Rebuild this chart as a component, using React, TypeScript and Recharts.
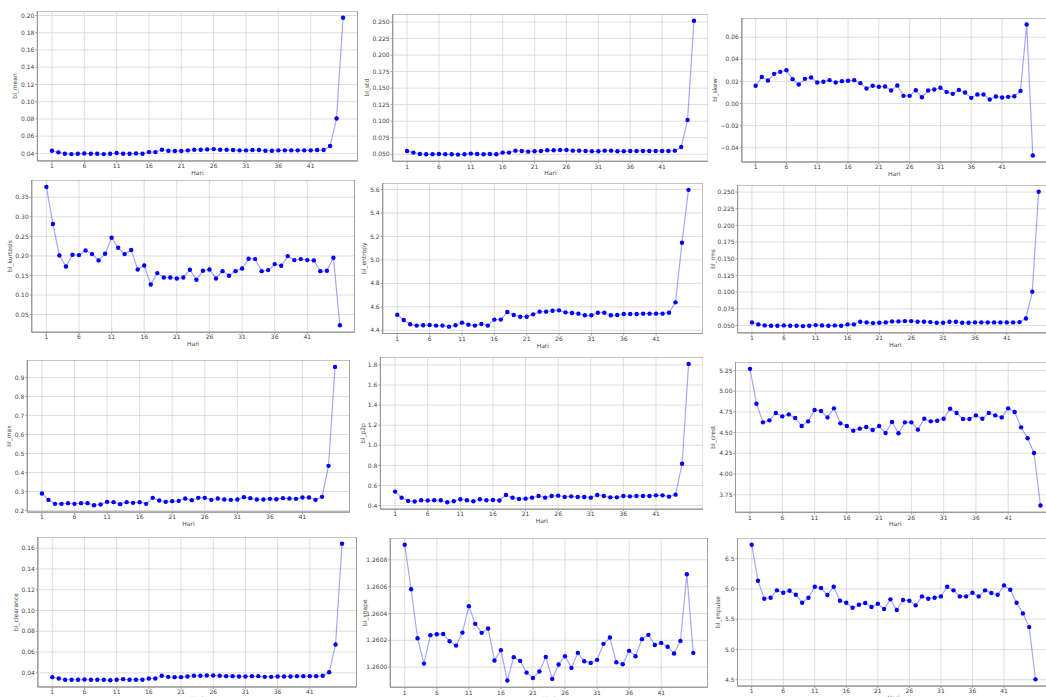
import React from 'react';
import { LineChart, Line, XAxis, YAxis, CartesianGrid, ReferenceArea } from 'recharts';

// day index on the x axis
const days = [1, 2, 3, 4, 5, 6, 7, 8, 9, 10, 11, 12, 13, 14, 15, 16, 17, 18, 19, 20, 21, 22, 23,
  24, 25, 26, 27, 28, 29, 30, 31, 32, 33, 34, 35, 36, 37, 38, 39, 40, 41, 42, 43, 44, 45, 46];
const xTicks = [1, 6, 11, 16, 21, 26, 31, 36, 41];

const meanVals = [0.0431, 0.0412, 0.0396, 0.0392, 0.0396, 0.0400, 0.0396, 0.0396, 0.0392, 0.0396,
  0.0404, 0.0396, 0.0396, 0.0400, 0.0396, 0.0415, 0.0415, 0.0442, 0.0431, 0.0427, 0.0427, 0.0435,
  0.0442, 0.0442, 0.0446, 0.0450, 0.0442, 0.0442, 0.0439, 0.0435, 0.0435, 0.0439, 0.0439, 0.0431,
  0.0431, 0.0435, 0.0435, 0.0435, 0.0435, 0.0435, 0.0435, 0.0439, 0.0439, 0.0485, 0.0805, 0.1973];
const stdVals = [0.0550, 0.0525, 0.0505, 0.0500, 0.0500, 0.0505, 0.0500, 0.0500, 0.0495, 0.0500,
  0.0510, 0.0505, 0.0500, 0.0505, 0.0500, 0.0525, 0.0525, 0.0555, 0.0550, 0.0540, 0.0545, 0.0550,
  0.0560, 0.0560, 0.0565, 0.0565, 0.0555, 0.0555, 0.0550, 0.0545, 0.0545, 0.0555, 0.0555, 0.0545,
  0.0545, 0.0550, 0.0550, 0.0550, 0.0550, 0.0550, 0.0550, 0.0550, 0.0555, 0.0610, 0.1020, 0.2520];
const skewVals = [0.0160, 0.0240, 0.0208, 0.0268, 0.0286, 0.0301, 0.0220, 0.0172, 0.0223, 0.0235,
  0.0190, 0.0196, 0.0211, 0.0190, 0.0202, 0.0205, 0.0211, 0.0184, 0.0136, 0.0160, 0.0151, 0.0154,
  0.0117, 0.0163, 0.0069, 0.0069, 0.0120, 0.0057, 0.0117, 0.0127, 0.0142, 0.0105, 0.0087, 0.0123,
  0.0099, 0.0051, 0.0081, 0.0081, 0.0036, 0.0063, 0.0054, 0.0060, 0.0066, 0.0114, 0.0714, -0.0470];
const kurtVals = [0.3765, 0.2816, 0.2013, 0.1730, 0.2030, 0.2021, 0.2141, 0.2047, 0.1885, 0.2056,
  0.2466, 0.2209, 0.2047, 0.2150, 0.1654, 0.1756, 0.1269, 0.1560, 0.1449, 0.1449, 0.1423, 0.1449,
  0.1645, 0.1389, 0.1620, 0.1654, 0.1423, 0.1611, 0.1491, 0.1611, 0.1679, 0.1927, 0.1919, 0.1611,
  0.1637, 0.1791, 0.1748, 0.1996, 0.1893, 0.1919, 0.1893, 0.1885, 0.1611, 0.1620, 0.1953, 0.0226];
const entropyVals = [4.533, 4.488, 4.451, 4.440, 4.443, 4.445, 4.440, 4.440, 4.431, 4.443,
  4.465, 4.448, 4.440, 4.454, 4.440, 4.491, 4.491, 4.556, 4.530, 4.516, 4.516, 4.536,
  4.559, 4.559, 4.567, 4.570, 4.553, 4.548, 4.542, 4.528, 4.528, 4.550, 4.550, 4.528,
  4.530, 4.539, 4.539, 4.539, 4.542, 4.542, 4.542, 4.542, 4.550, 4.638, 5.146, 5.597];
const rmsVals = [0.0545, 0.0515, 0.0500, 0.0495, 0.0495, 0.0500, 0.0495, 0.0495, 0.0490, 0.0495,
  0.0505, 0.0500, 0.0495, 0.0500, 0.0495, 0.0515, 0.0515, 0.0555, 0.0545, 0.0535, 0.0540, 0.0545,
  0.0560, 0.0560, 0.0565, 0.0565, 0.0555, 0.0555, 0.0550, 0.0540, 0.0540, 0.0555, 0.0555, 0.0540,
  0.0540, 0.0545, 0.0545, 0.0545, 0.0545, 0.0545, 0.0545, 0.0545, 0.0550, 0.0604, 0.1006, 0.2505];
const maxVals = [0.2895, 0.2560, 0.2350, 0.2350, 0.2386, 0.2350, 0.2386, 0.2386, 0.2280, 0.2316,
  0.2456, 0.2439, 0.2333, 0.2439, 0.2404, 0.2439, 0.2350, 0.2667, 0.2526, 0.2456, 0.2491, 0.2509,
  0.2632, 0.2544, 0.2667, 0.2667, 0.2560, 0.2632, 0.2579, 0.2560, 0.2579, 0.2702, 0.2649, 0.2579,
  0.2579, 0.2614, 0.2596, 0.2649, 0.2632, 0.2614, 0.2684, 0.2684, 0.2560, 0.2719, 0.4351, 0.9561];
const p2pVals = [0.539, 0.479, 0.446, 0.440, 0.453, 0.450, 0.453, 0.453, 0.433, 0.443,
  0.463, 0.453, 0.443, 0.463, 0.453, 0.456, 0.450, 0.506, 0.479, 0.466, 0.469, 0.479,
  0.496, 0.479, 0.496, 0.499, 0.486, 0.492, 0.486, 0.486, 0.479, 0.506, 0.496, 0.482,
  0.482, 0.496, 0.492, 0.496, 0.496, 0.496, 0.502, 0.502, 0.489, 0.509, 0.816, 1.810];
const crestVals = [5.270, 4.849, 4.624, 4.648, 4.737, 4.696, 4.720, 4.676, 4.580, 4.636,
  4.773, 4.761, 4.684, 4.793, 4.612, 4.580, 4.524, 4.548, 4.568, 4.532, 4.580, 4.496,
  4.628, 4.492, 4.624, 4.624, 4.536, 4.668, 4.636, 4.644, 4.668, 4.789, 4.737, 4.664,
  4.664, 4.708, 4.668, 4.737, 4.708, 4.684, 4.793, 4.749, 4.564, 4.432, 4.255, 3.621];
const clearanceVals = [0.0358, 0.0345, 0.0333, 0.0333, 0.0333, 0.0336, 0.0333, 0.0333, 0.0333, 0.0329,
  0.0333, 0.0339, 0.0333, 0.0333, 0.0333, 0.0345, 0.0345, 0.0371, 0.0361, 0.0358, 0.0358, 0.0365,
  0.0371, 0.0371, 0.0374, 0.0374, 0.0371, 0.0368, 0.0368, 0.0365, 0.0365, 0.0368, 0.0368, 0.0361,
  0.0361, 0.0365, 0.0365, 0.0365, 0.0368, 0.0368, 0.0368, 0.0368, 0.0371, 0.0406, 0.0673, 0.1642];
const shapeVals = [1.260912, 1.260581, 1.260216, 1.260027, 1.260239, 1.260246, 1.260248, 1.260194,
  1.260161, 1.260258, 1.260455, 1.260323, 1.260256, 1.260288, 1.260050, 1.260127, 1.259901,
  1.260075, 1.260047, 1.259960, 1.259920, 1.259968, 1.260077, 1.259913, 1.260020, 1.260082,
  1.259995, 1.260107, 1.260045, 1.260032, 1.260055, 1.260174, 1.260221, 1.260037, 1.260022,
  1.260122, 1.260082, 1.260209, 1.260241, 1.260166, 1.260181, 1.260152, 1.260102, 1.260196,
  1.260693, 1.260107];
const impulseVals = [6.731, 6.136, 5.839, 5.855, 5.977, 5.938, 5.971, 5.905, 5.773, 5.855,
  6.037, 6.015, 5.899, 6.037, 5.806, 5.773, 5.690, 5.740, 5.767, 5.701, 5.756, 5.668,
  5.828, 5.652, 5.817, 5.806, 5.729, 5.877, 5.839, 5.855, 5.877, 6.037, 5.977, 5.877,
  5.877, 5.938, 5.877, 5.977, 5.933, 5.905, 6.059, 5.988, 5.773, 5.596, 5.370, 4.506];

const ticksSmall = [0.04, 0.06, 0.08, 0.10, 0.12, 0.14, 0.16, 0.18, 0.20];
const ticksStd = [0.05, 0.075, 0.1, 0.125, 0.15, 0.175, 0.2, 0.225, 0.25];
const ticksSkew = [-0.04, -0.02, 0, 0.02, 0.04, 0.06];
const ticksKurt = [0.05, 0.1, 0.15, 0.2, 0.25, 0.3, 0.35];
const ticksEntropy = [4.4, 4.6, 4.8, 5.0, 5.2, 5.4, 5.6];
const ticksMax = [0.2, 0.3, 0.4, 0.5, 0.6, 0.7, 0.8, 0.9];
const ticksP2p = [0.4, 0.6, 0.8, 1.0, 1.2, 1.4, 1.6, 1.8];
const ticksCrest = [3.75, 4.0, 4.25, 4.5, 4.75, 5.0, 5.25];
const ticksClear = [0.04, 0.06, 0.08, 0.10, 0.12, 0.14, 0.16];
const ticksShape = [1.26, 1.2602, 1.2604, 1.2606, 1.2608];
const ticksImpulse = [4.5, 5.0, 5.5, 6.0, 6.5];

const panels = [
  { label: 'bl_mean', values: meanVals, ticks: ticksSmall, dec: 2, box: { l: 37.4, r: 357.6, t: 10.7, b: 160.6, lx: 15 } },
  { label: 'bl_std', values: stdVals, ticks: ticksStd, dec: 3, box: { l: 392.7, r: 708.3, t: 13.7, b: 161, lx: 367 } },
  { label: 'bl_skew', values: skewVals, ticks: ticksSkew, dec: 2, box: { l: 741.8, r: 1046.7, t: 17.8, b: 161.8, lx: 715 } },
  { label: 'bl_kurtosis', values: kurtVals, ticks: ticksKurt, dec: 2, box: { l: 31.7, r: 354.6, t: 180.4, b: 332.6, lx: 9 } },
  { label: 'bl_entropy', values: entropyVals, ticks: ticksEntropy, dec: 1, box: { l: 382.7, r: 703, t: 183.1, b: 333.6, lx: 363 } },
  { label: 'bl_rms', values: rmsVals, ticks: ticksStd, dec: 3, box: { l: 737.6, r: 1053, t: 184.6, b: 332.4, lx: 713 } },
  { label: 'bl_max', values: maxVals, ticks: ticksMax, dec: 1, box: { l: 27.3, r: 349.7, t: 359.8, b: 511.9, lx: 9 } },
  { label: 'bl_p2p', values: p2pVals, ticks: ticksP2p, dec: 1, box: { l: 380.4, r: 703.3, t: 357.4, b: 509.6, lx: 362 } },
  { label: 'bl_crest', values: crestVals, ticks: ticksCrest, dec: 2, box: { l: 735.5, r: 1055, t: 362.2, b: 512.5, lx: 713 } },
  { label: 'bl_clearance', values: clearanceVals, ticks: ticksClear, dec: 2, box: { l: 37.8, r: 356.5, t: 536.5, b: 686.5, lx: 15 } },
  { label: 'bl_shape', values: shapeVals, ticks: ticksShape, dec: 4, box: { l: 390.3, r: 707.7, t: 538.2, b: 687.5, lx: 365 } },
  { label: 'bl_impulse', values: impulseVals, ticks: ticksImpulse, dec: 1, box: { l: 737.5, r: 1049.7, t: 538.3, b: 686.4, lx: 718 } },
];

const xDom: [number, number] = [-1.25, 48.25];
const font = 'DejaVu Sans, sans-serif';
const X_H = 18;

const XLabel = (props: any) => {
  const { viewBox } = props;
  return (
    <text x={viewBox.x + viewBox.width / 2} y={viewBox.y + 11.5} textAnchor="middle"
      dominantBaseline="central" fontSize={6} fill="#444" fontFamily={font}>Hari</text>
  );
};

const YLabel = (props: any) => {
  const { viewBox, text } = props;
  const cx = viewBox.x + 5;
  const cy = viewBox.y + viewBox.height / 2;
  return (
    <text x={cx} y={cy} transform={`rotate(-90, ${cx}, ${cy})`} textAnchor="middle"
      dominantBaseline="central" fontSize={6} fill="#444" fontFamily={font}>{text}</text>
  );
};

const Panel = ({ p }: { p: any }) => {
  const vals: number[] = p.values;
  const lo = Math.min(...vals);
  const hi = Math.max(...vals);
  const pad = (hi - lo) * 0.05;
  const yDom: [number, number] = [lo - pad, hi + pad];
  const yW = p.box.l - (p.box.lx - 5);
  const plotW = p.box.r - p.box.l;
  const plotH = p.box.b - p.box.t;
  const data = days.map((d, i) => ({ day: d, v: vals[i] }));
  const fmt = (v: number) => {
    const s = v.toFixed(p.dec);
    return s.startsWith('-') ? '\u2212' + s.slice(1) : s;
  };

  return (
    <div style={{ position: 'absolute', left: p.box.l - yW, top: p.box.t }}>
      <LineChart width={yW + plotW} height={plotH + X_H} data={data}
        margin={{ top: 0, right: 0, bottom: 0, left: 0 }}>
        <CartesianGrid stroke="#d6d6d6" strokeWidth={0.8} />
        <XAxis type="number" dataKey="day" domain={xDom} ticks={xTicks} allowDataOverflow
          interval={0} height={X_H} tickSize={2} tickMargin={1} stroke="#999"
          tick={{ fontSize: 6, fill: '#444', fontFamily: font }} label={<XLabel />} />
        <YAxis type="number" domain={yDom} ticks={p.ticks} allowDataOverflow interval={0}
          width={yW} tickSize={2} tickMargin={1} stroke="#999" tickFormatter={fmt}
          tick={{ fontSize: 6, fill: '#444', fontFamily: font }} label={<YLabel text={p.label} />} />
        <ReferenceArea x1={xDom[0]} x2={xDom[1]} y1={yDom[0]} y2={yDom[1]}
          fill="none" fillOpacity={0} stroke="#999" strokeWidth={1} />
        <Line type="linear" dataKey="v" stroke="rgba(0,0,255,0.35)" strokeWidth={1.2}
          dot={{ r: 2.2, fill: '#0000ff', stroke: 'none' }} isAnimationActive={false} />
      </LineChart>
    </div>
  );
};

export default function App() {
  return (
    <div style={{ position: 'absolute', left: 0, top: 0, width: 1046, height: 697,
      overflow: 'hidden', background: '#fff', fontFamily: font }}>
      {panels.map((p) => (
        <Panel key={p.label} p={p} />
      ))}
    </div>
  );
}
